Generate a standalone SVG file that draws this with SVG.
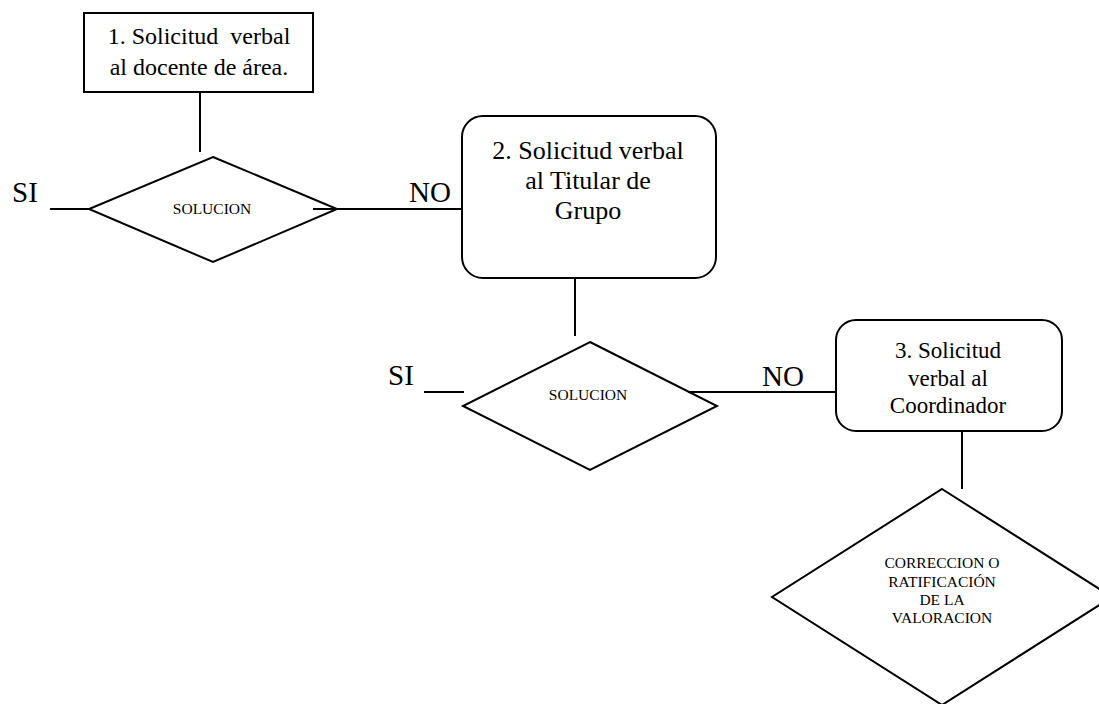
<svg xmlns="http://www.w3.org/2000/svg" width="1099" height="704" viewBox="0 0 1099 704">
<style>
.shape{fill:#fff;stroke:#000;stroke-width:2}
.conn line{stroke:#000;stroke-width:2}
text{font-family:"Liberation Serif","Times New Roman",serif;fill:#000;text-anchor:middle}
.box{font-size:24px}
.box2{font-size:26px}
.box3{font-size:23px}
.dia{font-size:15.5px}
.lbl{font-size:29px;text-anchor:start}
</style>
<rect width="1099" height="704" fill="#fff"/>
<g id="conn" class="conn">
<line x1="200" y1="92" x2="200" y2="152"/>
<line x1="50" y1="209" x2="89" y2="209"/>
<line x1="313" y1="209" x2="462" y2="209"/>
<line x1="575" y1="278" x2="575" y2="336"/>
<line x1="424" y1="392" x2="464" y2="392"/>
<line x1="688" y1="392" x2="836" y2="392"/>
<line x1="962" y1="431" x2="962" y2="489"/>
</g>
<g id="node1">
<rect class="shape" x="84" y="13" width="229" height="79"/>
<text class="box" x="199" y="44" xml:space="preserve" style="white-space:pre">1. Solicitud  verbal</text>
<text class="box" x="199" y="75">al docente de área.</text>
</g>
<g id="dec1">
<polygon class="shape" points="213,157 337,209 213,262 89,209"/>
<line x1="313" y1="209" x2="337" y2="209" stroke="#000" stroke-width="2"/>
<text class="dia" x="212" y="214">SOLUCION</text>
</g>
<g id="lblSI1"><text class="lbl" x="12" y="202">SI</text></g>
<g id="lblNO1"><text class="lbl" x="409" y="202">NO</text></g>
<g id="node2">
<rect class="shape" x="462" y="116" width="254" height="162" rx="21" ry="21"/>
<text class="box2" x="588" y="159">2. Solicitud verbal</text>
<text class="box2" x="588" y="189">al Titular de</text>
<text class="box2" x="588" y="219">Grupo</text>
</g>
<g id="dec2">
<polygon class="shape" points="590,342 717,406 590,470 463,406"/>
<line x1="688" y1="392" x2="717" y2="392" stroke="#000" stroke-width="2"/>
<text class="dia" x="588" y="400">SOLUCION</text>
</g>
<g id="lblSI2"><text class="lbl" x="388" y="385">SI</text></g>
<g id="lblNO2"><text class="lbl" x="762" y="386">NO</text></g>
<g id="node3">
<rect class="shape" x="836" y="320" width="226" height="111" rx="20" ry="20"/>
<text class="box3" x="948" y="358">3. Solicitud</text>
<text class="box3" x="948" y="386">verbal al</text>
<text class="box3" x="948" y="413">Coordinador</text>
</g>
<g id="dec3">
<polygon class="shape" points="942,489 1112,597 942,705 772,597"/>
<text class="dia" x="942" y="568">CORRECCION O</text>
<text class="dia" x="942" y="587">RATIFICACIÓN</text>
<text class="dia" x="942" y="605">DE LA</text>
<text class="dia" x="942" y="623">VALORACION</text>
</g>
</svg>
